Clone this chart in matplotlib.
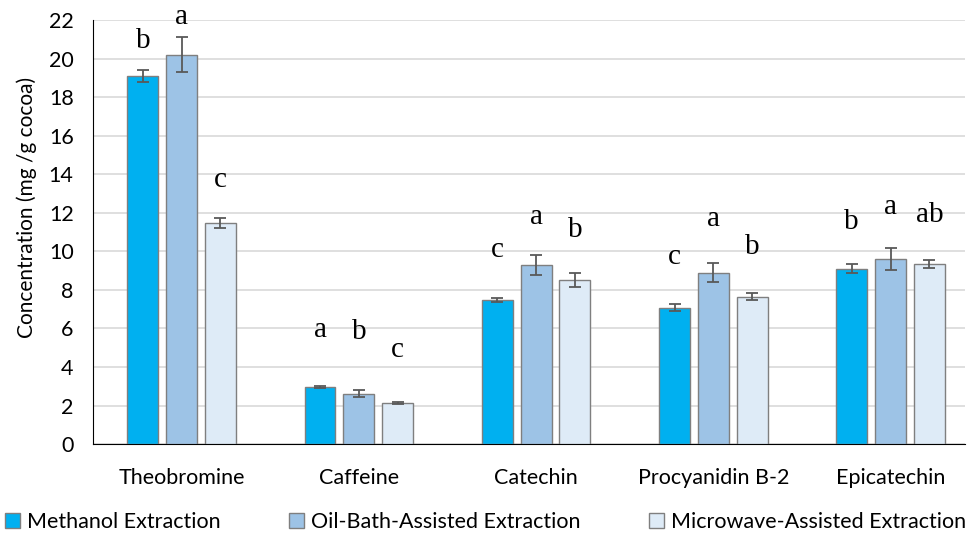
import matplotlib.pyplot as plt
import numpy as np

compounds = ['Theobromine', 'Caffeine', 'Catechin', 'Procyanidin B-2', 'Epicatechin']
series = ['Methanol Extraction', 'Oil-Bath-Assisted Extraction', 'Microwave-Assisted Extraction']

methanol = [19.1, 2.95, 7.47, 7.08, 9.1]
oil_bath = [20.2, 2.6, 9.29, 8.9, 9.6]
microwave = [11.47, 2.12, 8.5, 7.65, 9.35]

methanol_err = [0.3, 0.04, 0.1, 0.2, 0.25]
oil_bath_err = [0.9, 0.18, 0.5, 0.5, 0.55]
microwave_err = [0.25, 0.05, 0.35, 0.2, 0.2]

# significance letters and where they sit (in data units), one row per compound
letters = [['b', 'a', 'c'], ['a', 'b', 'c'], ['c', 'a', 'b'], ['c', 'a', 'b'], ['b', 'a', 'ab']]
letter_y = [[20.9, 22.15, 13.7], [5.9, 5.8, 4.9], [10.05, 11.8, 11.1],
            [9.7, 11.7, 10.2], [11.5, 12.3, 11.9]]

colors = ['#00B0F0', '#9DC3E6', '#DEEBF7']

fig = plt.figure(figsize=(9.71, 5.35), dpi=100)
ax = fig.add_axes([0.0958, 0.170, 0.898, 0.7926])

x = np.arange(len(compounds))
width = 0.174
step = 0.219
data = [methanol, oil_bath, microwave]
errs = [methanol_err, oil_bath_err, microwave_err]

for i in range(3):
    pos = x + (i - 1) * step
    ax.bar(pos, data[i], width, color=colors[i], edgecolor='#7F7F7F', linewidth=1,
           label=series[i], zorder=3,
           yerr=errs[i], error_kw=dict(ecolor='#595959', elinewidth=1.3, capsize=4, capthick=1.3))
    for j in range(len(compounds)):
        ax.text(pos[j], letter_y[j][i], letters[j][i], ha='center', va='center',
                fontsize=21, family='Liberation Serif', zorder=4)

ax.set_ylim(0, 22)
ax.set_yticks(range(0, 23, 2))
ax.set_xlim(-0.5, 4.42)
ax.set_xticks(x)
ax.set_xticklabels(compounds)
ax.yaxis.grid(True, color='#D9D9D9', linewidth=1.2, zorder=0)
ax.set_axisbelow(True)
for s in ['top', 'right']:
    ax.spines[s].set_visible(False)
ax.spines['bottom'].set_color('#000000')
ax.spines['left'].set_color('#000000')
ax.tick_params(axis='both', length=0, labelsize=15.5, pad=14)
ax.tick_params(axis='x', pad=17)
for lab in ax.get_xticklabels() + ax.get_yticklabels():
    lab.set_family('Lato')
ax.set_ylabel('Concentration (mg /g cocoa)', fontsize=15, family='Lato')
ax.yaxis.set_label_coords(-0.064, 0.559)

fig.legend(loc='lower center', bbox_to_anchor=(0.5, -0.03), ncol=3, frameon=False,
           prop={'family': 'Lato', 'size': 15.5}, handlelength=0.7, handleheight=0.7,
           handletextpad=0.3, columnspacing=3.2)

fig.savefig('out.png', dpi=100)
